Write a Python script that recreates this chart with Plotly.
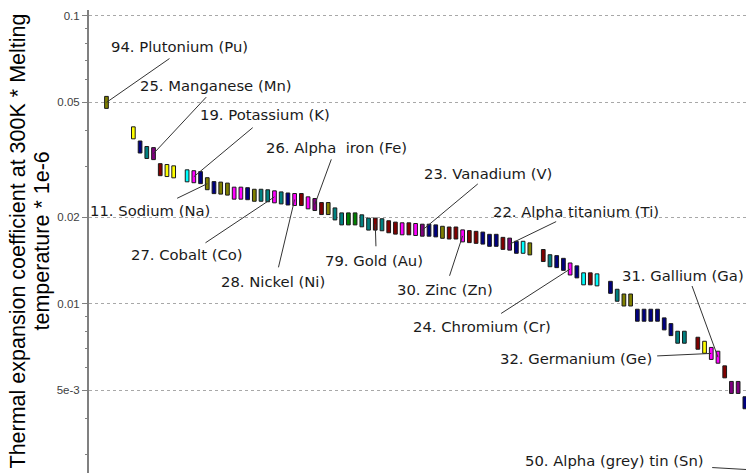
import math
import plotly.graph_objects as go

# ---------------- data ----------------
rank = [0, 4, 5, 6, 7, 8, 9, 10, 12, 13, 14, 15, 16, 17, 18, 19, 20, 21, 22, 23,
        24, 25, 26, 27, 28, 29, 30, 31, 32, 33, 34, 35, 36, 37, 38, 39, 40, 41, 42, 43,
        44, 45, 46, 47, 48, 49, 50, 51, 52, 53, 54, 55, 56, 57, 58, 59, 60, 61, 62, 63,
        65, 66, 67, 68, 69, 70, 71, 72, 73, 75, 76, 77, 78, 79, 80, 81, 82, 83, 84, 85,
        86, 88, 89, 90, 91, 92, 93, 94, 95, 96]
value = [0.0500, 0.0392, 0.0350, 0.0335, 0.0332, 0.0292, 0.0290, 0.0287, 0.0278, 0.0276,
         0.0274, 0.0261, 0.0253, 0.0252, 0.0250, 0.0242, 0.0242, 0.0241, 0.0238, 0.0238,
         0.0237, 0.0235, 0.0233, 0.0231, 0.0230, 0.0230, 0.0224, 0.0221, 0.0214, 0.0214,
         0.0205, 0.0197, 0.0197, 0.0197, 0.0194, 0.0189, 0.0189, 0.0188, 0.0185, 0.0183,
         0.0182, 0.0182, 0.0181, 0.0180, 0.0180, 0.0179, 0.0177, 0.0176, 0.0176, 0.0172,
         0.0171, 0.0170, 0.0169, 0.0166, 0.0166, 0.0162, 0.0161, 0.0157, 0.0157, 0.0155,
         0.0147, 0.0141, 0.0140, 0.0137, 0.0132, 0.0129, 0.0122, 0.0122, 0.0121, 0.0114,
         0.0107, 0.0103, 0.0103, 0.00912, 0.00912, 0.00912, 0.00912, 0.00851, 0.00813, 0.00765,
         0.00765, 0.00729, 0.00706, 0.00672, 0.00652, 0.00580, 0.00512, 0.00512, 0.00453, 0.00265]
color_name = ["olive", "yellow", "navy", "teal", "purple", "maroon", "yellow", "yellow", "cyan", "magenta",
              "navy", "olive", "navy", "olive", "olive", "magenta", "magenta", "navy", "olive", "teal",
              "teal", "magenta", "teal", "navy", "magenta", "maroon", "magenta", "purple", "maroon", "olive",
              "teal", "teal", "green", "green", "teal", "teal", "maroon", "teal", "maroon", "maroon",
              "magenta", "maroon", "magenta", "purple", "navy", "navy", "olive", "maroon", "maroon", "magenta",
              "maroon", "maroon", "navy", "navy", "navy", "maroon", "purple", "navy", "cyan", "olive",
              "maroon", "teal", "navy", "navy", "magenta", "navy", "cyan", "maroon", "cyan", "navy",
              "teal", "olive", "olive", "navy", "navy", "navy", "navy", "navy", "navy", "teal",
              "teal", "maroon", "yellow", "magenta", "magenta", "maroon", "purple", "purple", "navy", "teal"]

label_text = ["94. Plutonium (Pu)", "25. Manganese (Mn)", "19. Potassium (K)", "26. Alpha  iron (Fe)",
              "11. Sodium (Na)", "27. Cobalt (Co)", "28. Nickel (Ni)", "79. Gold (Au)",
              "23. Vanadium (V)", "30. Zinc (Zn)", "22. Alpha titanium (Ti)", "24. Chromium (Cr)",
              "31. Gallium (Ga)", "32. Germanium (Ge)", "50. Alpha (grey) tin (Sn)"]
label_rank = [0, 7, 13, 31, 15, 25, 28, 40, 47, 53, 60, 69, 91, 90, 96]

y_title_lines = ["Thermal expansion coefficient at 300K * Melting", "temperature * 1e-6"]
y_tick_vals = [0.005, 0.01, 0.02, 0.05, 0.1]
y_tick_text = ["5e-3", "0.01", "0.02", "0.05", "0.1"]
y_minor_vals = [0.003, 0.004, 0.006, 0.007, 0.008, 0.009, 0.03, 0.04, 0.06, 0.07, 0.08, 0.09]

# ---------------- styling / layout ----------------
palette = {"olive": "#808000", "yellow": "#FFFF00", "navy": "#000080", "teal": "#008080",
           "purple": "#800080", "maroon": "#800000", "cyan": "#00FFFF", "magenta": "#FF00FF",
           "green": "#008000"}

W, H = 746, 473
ML, MR, MT, MB = 89, 0, 10, 0
x_range = [-2.6, 95.17]
y_range = [-2.5878, -0.9802]
px_x = (W - ML - MR) / (x_range[1] - x_range[0])
px_dec = (H - MT - MB) / (y_range[1] - y_range[0])

# label placement (screen pixel offsets from the marked bar): tail of leader, text centre
tail_off = [(63.5, -44.2), (53.2, -57.0), (59.4, -49.5), (16.9, -46.2), (-30.6, 14.8),
            (-69.5, 46.3), (-16.4, 68.8), (0.7, 23.2), (56.0, -46.7), (-13.4, 40.9),
            (47.0, -22.8), (-69.5, 44.8), (-26.3, -72.2), (-54.6, 2.5), (-39.9, -2.3)]
text_off = [(73.5, -55.5), (62.5, -67.7), (71.1, -61.8), (22.2, -57.5), (-57.3, 26.5),
            (-87.0, 58.0), (-21.7, 82.2), (-1.3, 36.2), (65.7, -56.7), (-17.7, 53.5),
            (66.8, -32.5), (-87.7, 57.5), (-34.5, -82.2), (-135.3, 4.8), (-136.6, -9.6)]

f = 10 ** (6.0 / px_dec)  # half bar height factor
bar_base = [v / f for v in value]
bar_len = [v * f - v / f for v in value]

fig = go.Figure()
fig.add_trace(go.Bar(
    x=rank, y=bar_len, base=bar_base, width=0.55,
    marker=dict(color=[palette[c] for c in color_name], line=dict(color="#1a1a1a", width=1)),
    hoverinfo="skip", showlegend=False,
))

value_by_rank = dict(zip(rank, value))
annotations = []
for txt, k, (tdx, tdy), (xdx, xdy) in zip(label_text, label_rank, tail_off, text_off):
    v = value_by_rank[k]
    hx, hy = k, math.log10(v)
    tx = k + tdx / px_x
    ty = hy - tdy / px_dec
    annotations.append(dict(
        x=hx, y=hy, xref="x", yref="y", ax=tx, ay=ty, axref="x", ayref="y",
        text=" ", font=dict(size=1), showarrow=True, arrowhead=0, arrowwidth=1,
        arrowcolor="#333333", standoff=0, borderpad=0))
    annotations.append(dict(
        x=tx, y=ty, xref="x", yref="y", text=txt, showarrow=False,
        xshift=xdx - tdx, yshift=-(xdy - tdy), xanchor="center", yanchor="middle",
        font=dict(family="DejaVu Sans", size=14.8, color="#1a1a1a")))

# y-axis title, two rotated lines
for line, xs in zip(y_title_lines, [-72, -48]):
    annotations.append(dict(
        x=0, y=0.5, xref="paper", yref="paper", text=line, textangle=-90, showarrow=False,
        xanchor="center", yanchor="middle", xshift=xs,
        font=dict(family="Liberation Sans", size=21.5, color="black")))

fig.update_layout(
    width=W, height=H, margin=dict(l=ML, r=MR, t=MT, b=MB, pad=0),
    paper_bgcolor="white", plot_bgcolor="white",
    annotations=annotations, showlegend=False, bargap=0,
    xaxis=dict(range=x_range, visible=False, fixedrange=True),
    yaxis=dict(
        type="log", range=y_range, tickvals=y_tick_vals, ticktext=y_tick_text,
        ticks="outside", ticklen=5, tickwidth=1, tickcolor="#808080",
        showline=True, linecolor="#808080", linewidth=2, zeroline=False,
        showgrid=True, gridcolor="#a8a8a8", gridwidth=1, griddash="3px,3px",
        tickfont=dict(family="Liberation Sans", size=11.5, color="#404040"),
        minor=dict(tickvals=y_minor_vals, ticks="outside", ticklen=2, tickcolor="#808080", showgrid=False),
        automargin=False, fixedrange=True,
    ),
)

fig.write_html(
    "out.html",
    config={"displayModeBar": False, "staticPlot": True},
    post_script="document.body.style.margin='0';document.body.style.overflow='hidden';",
)
